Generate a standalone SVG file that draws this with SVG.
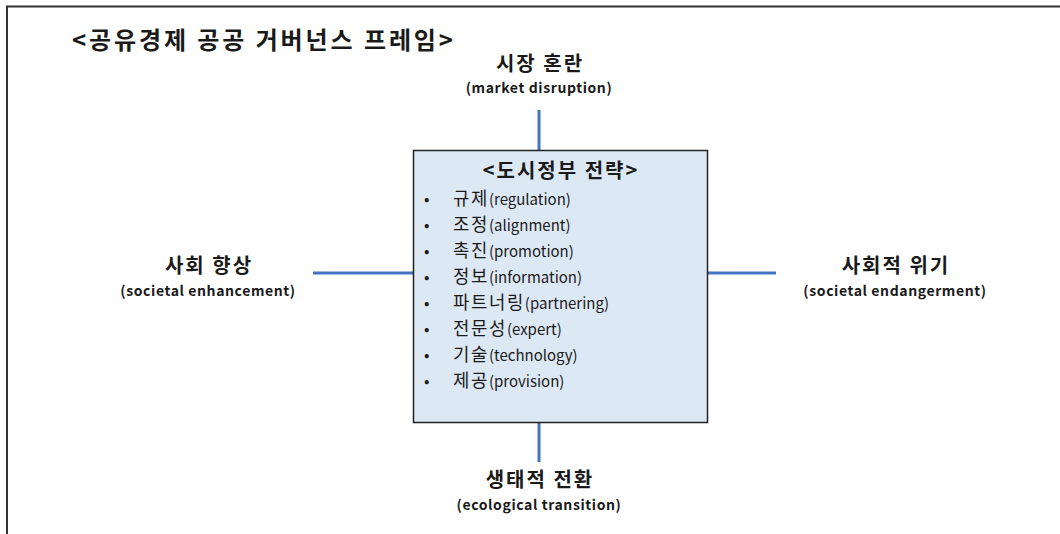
<svg xmlns="http://www.w3.org/2000/svg" width="1060" height="534" viewBox="0 0 1060 534">
<style>
.t{font-family:"Noto Sans CJK KR","Noto Sans",sans-serif;fill:#1a1a1a;}
.h{font-weight:bold;font-size:20px;letter-spacing:2px;text-anchor:middle;}
.s{font-weight:bold;font-size:14px;letter-spacing:0.6px;text-anchor:middle;}
.k{font-size:17.8px;letter-spacing:1.6px;}
.e{font-size:15px;letter-spacing:0;}
.b{font-size:16px;}
.c{stroke:#4472c4;stroke-width:3;fill:none;}
</style>
<rect width="1060" height="534" fill="#fff"/>
<path d="M7 534 V6.5 H1060" fill="none" stroke="#333" stroke-width="2"/>
<text class="t" x="72" y="49" font-size="24" font-weight="bold" letter-spacing="2.9">&lt;공유경제 공공 거버넌스 프레임&gt;</text>
<g id="connectors">
<line class="c" x1="539" y1="110" x2="539" y2="151"/>
<line class="c" x1="539" y1="423" x2="539" y2="462"/>
<line class="c" x1="313" y1="273" x2="414" y2="273"/>
<line class="c" x1="707" y1="273" x2="776" y2="273"/>
</g>
<g id="top">
<text class="t h" x="540" y="71">시장 혼란</text>
<text class="t s" x="539" y="93">(market disruption)</text>
</g>
<g id="left">
<text class="t h" x="209" y="273">사회 향상</text>
<text class="t s" x="208" y="295.5">(societal enhancement)</text>
</g>
<g id="right">
<text class="t h" x="896" y="273">사회적 위기</text>
<text class="t s" x="895" y="295.5">(societal endangerment)</text>
</g>
<g id="bottom">
<text class="t h" x="540" y="487">생태적 전환</text>
<text class="t s" x="539" y="509.5">(ecological transition)</text>
</g>
<g id="center">
<rect x="413.5" y="150.5" width="294" height="272" fill="#dde8f5" stroke="#222" stroke-width="1.5"/>
<text class="t h" x="561" y="178">&lt;도시정부 전략&gt;</text>
<g class="t">
<text class="b" x="424" y="205">•</text>
<text x="453" y="205"><tspan class="k">규제</tspan><tspan class="e">(regulation)</tspan></text>
<text class="b" x="424" y="231">•</text>
<text x="453" y="231"><tspan class="k">조정</tspan><tspan class="e">(alignment)</tspan></text>
<text class="b" x="424" y="257">•</text>
<text x="453" y="257"><tspan class="k">촉진</tspan><tspan class="e">(promotion)</tspan></text>
<text class="b" x="424" y="283">•</text>
<text x="453" y="283"><tspan class="k">정보</tspan><tspan class="e">(information)</tspan></text>
<text class="b" x="424" y="309">•</text>
<text x="453" y="309"><tspan class="k">파트너링</tspan><tspan class="e">(partnering)</tspan></text>
<text class="b" x="424" y="335">•</text>
<text x="453" y="335"><tspan class="k">전문성</tspan><tspan class="e">(expert)</tspan></text>
<text class="b" x="424" y="361">•</text>
<text x="453" y="361"><tspan class="k">기술</tspan><tspan class="e">(technology)</tspan></text>
<text class="b" x="424" y="387">•</text>
<text x="453" y="387"><tspan class="k">제공</tspan><tspan class="e">(provision)</tspan></text>
</g>
</g>
</svg>
